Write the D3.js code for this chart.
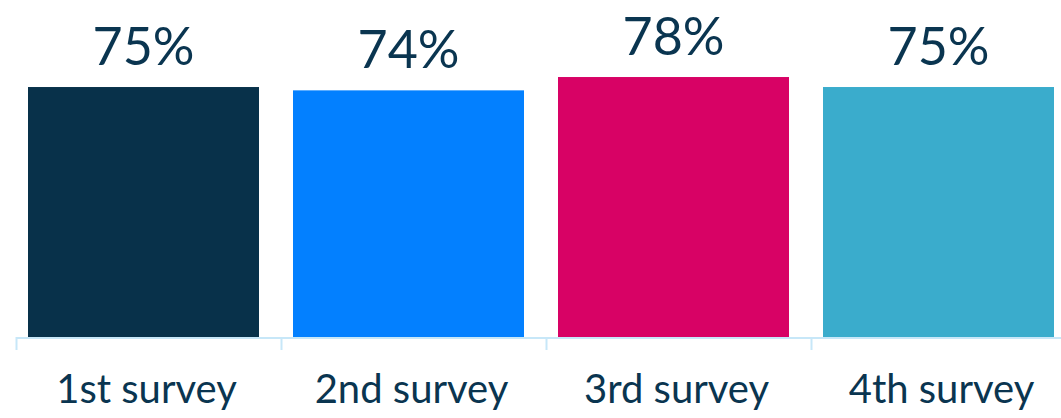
<!DOCTYPE html>
<html>
<head>
<meta charset="utf-8">
<script src="https://cdn.jsdelivr.net/npm/d3@7"></script>
<style>
  html, body { margin: 0; padding: 0; background: #ffffff; }
  svg { display: block; }
</style>
</head>
<body>
<svg id="chart" width="1061" height="418"></svg>
<script>
// Share of respondents per survey wave
const categories = ["1st survey", "2nd survey", "3rd survey", "4th survey"];
const values = [75, 74, 78, 75];
const colors = ["#08314a", "#0380ff", "#d80265", "#3aaccc"];

const width = 1061, height = 418;
const baseline = 337;
const svg = d3.select("#chart");
const font = "Lato, 'Open Sans', sans-serif";
const textColor = "#0a3550";

const x = d3.scaleBand()
  .domain(categories)
  .range([11, 1071])
  .paddingInner(34 / 265)
  .paddingOuter(17 / 265);

const y = d3.scaleLinear().domain([0, 100]).range([baseline, baseline - 333.3]);

// Bars
svg.selectAll("rect.bar")
  .data(categories)
  .join("rect")
  .attr("class", "bar")
  .attr("x", d => x(d))
  .attr("width", x.bandwidth())
  .attr("y", (d, i) => y(values[i]))
  .attr("height", (d, i) => y(0) - y(values[i]))
  .attr("fill", (d, i) => colors[i]);

// Value labels above bars
svg.selectAll("text.value")
  .data(categories)
  .join("text")
  .attr("class", "value")
  .attr("x", d => x(d) + x.bandwidth() / 2)
  .attr("y", (d, i) => y(values[i]) - 22)
  .attr("text-anchor", "middle")
  .attr("font-family", font)
  .attr("font-size", 52)
  .attr("fill", textColor)
  .text((d, i) => values[i] + "%");

// Baseline axis with tick marks
const axisColor = "#c7e7f8";
svg.append("line")
  .attr("x1", 16).attr("x2", width)
  .attr("y1", baseline + 1).attr("y2", baseline + 1)
  .attr("stroke", axisColor).attr("stroke-width", 2);

svg.selectAll("line.tick")
  .data(categories)
  .join("line")
  .attr("class", "tick")
  .attr("x1", d => x(d) - 11.5).attr("x2", d => x(d) - 11.5)
  .attr("y1", baseline).attr("y2", baseline + 13)
  .attr("stroke", axisColor).attr("stroke-width", 2);

// Category labels
svg.selectAll("text.cat")
  .data(categories)
  .join("text")
  .attr("class", "cat")
  .attr("x", d => x(d) + x.bandwidth() / 2 + 3)
  .attr("y", 403)
  .attr("text-anchor", "middle")
  .attr("font-family", font)
  .attr("font-size", 40)
  .attr("fill", textColor)
  .text(d => d);
</script>
</body>
</html>
